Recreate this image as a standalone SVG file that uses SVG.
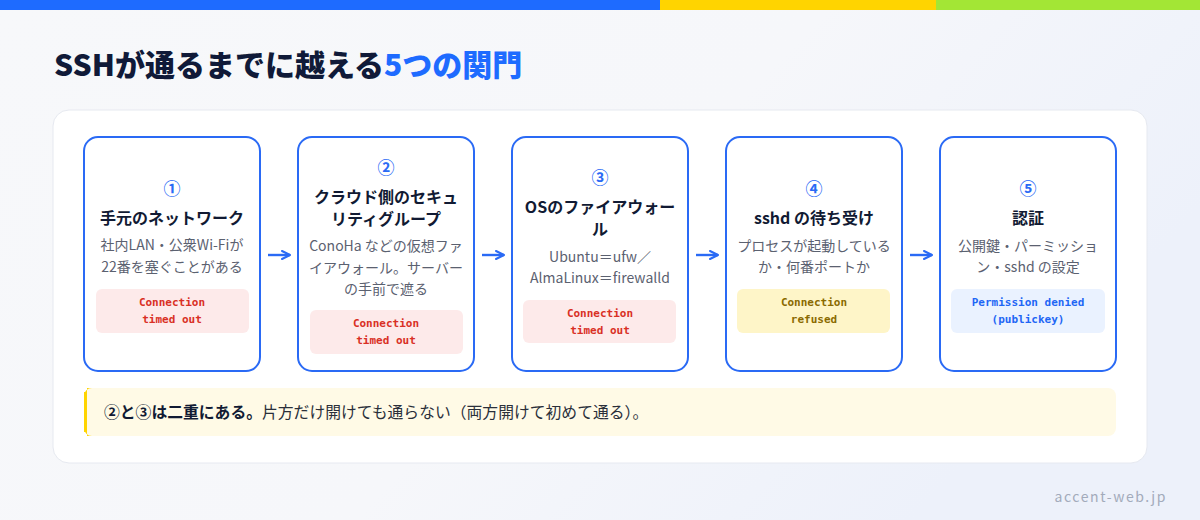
<svg xmlns="http://www.w3.org/2000/svg" width="1200" height="520" viewBox="0 0 1200 520">
<defs>
<linearGradient id="bg" x1="0" y1="0" x2="1" y2="0.4">
<stop offset="0" stop-color="#f7f8fa"/>
<stop offset="0.6" stop-color="#f6f7fa"/>
<stop offset="1" stop-color="#edf1fa"/>
</linearGradient>
<marker id="ah" viewBox="0 0 10 10" refX="9" refY="5" markerWidth="10" markerHeight="10" markerUnits="userSpaceOnUse" orient="auto">
<path d="M1,1 L9,5 L1,9" fill="none" stroke="#2a6af5" stroke-width="2" stroke-linecap="round" stroke-linejoin="round"/>
</marker>
</defs>
<style>
text{font-family:"Noto Sans CJK JP","Noto Sans",sans-serif}
.node{fill:#ffffff;stroke:#2a6af5;stroke-width:2}
.num{font-size:17px;font-weight:700;fill:#2a6af5;text-anchor:middle}
.ttl{font-size:16px;font-weight:700;fill:#111a33;text-anchor:middle}
.dsc{font-size:14px;fill:#5b6170;text-anchor:middle}
.bdg{font-family:"DejaVu Sans Mono","Liberation Mono",monospace;font-size:11px;font-weight:700;text-anchor:middle}
.red{fill:#fdeaea}.redt{fill:#d93025}
.yel{fill:#fef5c8}.yelt{fill:#8a6a00}
.blu{fill:#eaf2ff}.blut{fill:#1e66f5}
.conn{stroke:#2a6af5;stroke-width:2.4;fill:none;marker-end:url(#ah)}
</style>
<rect width="1200" height="520" fill="url(#bg)"/>
<rect x="0" y="0" width="660" height="10" fill="#1e6bff"/>
<rect x="660" y="0" width="276" height="10" fill="#ffd400"/>
<rect x="936" y="0" width="264" height="10" fill="#a3e635"/>
<text x="54" y="76" font-size="30" font-weight="900" fill="#101a38">SSHが通るまでに越える<tspan fill="#1e6bff">5つの関門</tspan></text>
<rect x="53" y="110" width="1094" height="353" rx="16" fill="#ffffff" stroke="#e6e9f0" stroke-width="1"/>

<g id="node1">
<rect class="node" x="84" y="137" width="176" height="234" rx="14"/>
<text class="num" x="172" y="195">①</text>
<text class="ttl" x="172" y="224">手元のネットワーク</text>
<text class="dsc" x="172" y="250">社内LAN・公衆Wi-Fiが</text>
<text class="dsc" x="172" y="272">22番を塞ぐことがある</text>
<rect class="red" x="96" y="289" width="153" height="44" rx="6"/>
<text class="bdg redt" x="172" y="306">Connection</text>
<text class="bdg redt" x="172" y="323">timed out</text>
</g>

<g id="node2">
<rect class="node" x="298" y="137" width="176" height="234" rx="14"/>
<text class="num" x="386" y="174">②</text>
<text class="ttl" x="386" y="203">クラウド側のセキュ</text>
<text class="ttl" x="386" y="225">リティグループ</text>
<text class="dsc" x="386" y="251">ConoHa などの仮想ファ</text>
<text class="dsc" x="386" y="273">イアウォール。サーバー</text>
<text class="dsc" x="386" y="294">の手前で遮る</text>
<rect class="red" x="310" y="310" width="153" height="44" rx="6"/>
<text class="bdg redt" x="386" y="327">Connection</text>
<text class="bdg redt" x="386" y="344">timed out</text>
</g>

<g id="node3">
<rect class="node" x="512" y="137" width="176" height="234" rx="14"/>
<text class="num" x="600" y="184">③</text>
<text class="ttl" x="600" y="213">OSのファイアウォー</text>
<text class="ttl" x="600" y="235">ル</text>
<text class="dsc" x="600" y="262">Ubuntu＝ufw／</text>
<text class="dsc" x="600" y="283">AlmaLinux＝firewalld</text>
<rect class="red" x="523" y="300" width="153" height="43" rx="6"/>
<text class="bdg redt" x="600" y="317">Connection</text>
<text class="bdg redt" x="600" y="334">timed out</text>
</g>

<g id="node4">
<rect class="node" x="726" y="137" width="176" height="234" rx="14"/>
<text class="num" x="814" y="195">④</text>
<text class="ttl" x="814" y="224">sshd の待ち受け</text>
<text class="dsc" x="814" y="251">プロセスが起動している</text>
<text class="dsc" x="814" y="272">か・何番ポートか</text>
<rect class="yel" x="737" y="289" width="153" height="44" rx="6"/>
<text class="bdg yelt" x="814" y="306">Connection</text>
<text class="bdg yelt" x="814" y="323">refused</text>
</g>

<g id="node5">
<rect class="node" x="940" y="137" width="176" height="234" rx="14"/>
<text class="num" x="1028" y="195">⑤</text>
<text class="ttl" x="1028" y="224">認証</text>
<text class="dsc" x="1028" y="251">公開鍵・パーミッショ</text>
<text class="dsc" x="1028" y="272">ン・sshd の設定</text>
<rect class="blu" x="951" y="289" width="154" height="44" rx="6"/>
<text class="bdg blut" x="1028" y="306">Permission denied</text>
<text class="bdg blut" x="1028" y="323">(publickey)</text>
</g>

<g id="connectors">
<line class="conn" x1="268" y1="255" x2="290" y2="255"/>
<line class="conn" x1="482" y1="255" x2="504" y2="255"/>
<line class="conn" x1="696" y1="255" x2="718" y2="255"/>
<line class="conn" x1="910" y1="255" x2="932" y2="255"/>
</g>

<g id="note">
<rect x="84" y="388" width="1032" height="48" rx="8" fill="#fffae6"/>
<path d="M92,388 A8,8 0 0 0 84,396 L84,428 A8,8 0 0 0 92,436 L87,436 L87,388 Z" fill="#ffd400"/>
<rect x="84" y="392" width="3" height="40" fill="#ffd400"/>
<text x="104" y="418" font-size="15.8" fill="#2a2f3a"><tspan font-weight="700" fill="#111a33">②と③は二重にある。</tspan>片方だけ開けても通らない（両方開けて初めて通る）。</text>
</g>

<text x="1167" y="502" font-size="14" fill="#a3abbb" text-anchor="end" letter-spacing="1.6">accent-web.jp</text>
</svg>
